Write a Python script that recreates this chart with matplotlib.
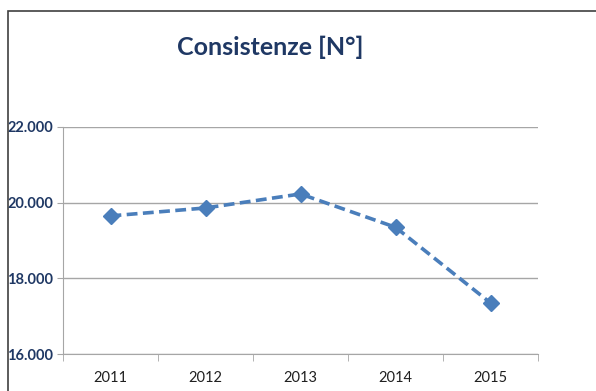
import matplotlib.pyplot as plt
from matplotlib.patches import Rectangle
from matplotlib.ticker import FuncFormatter

anni = ["2011", "2012", "2013", "2014", "2015"]
consistenze = [19650, 19860, 20230, 19350, 17350]
y_ticks = [16000, 18000, 20000, 22000]

navy = "#1F3864"
blu = "#4A7EBB"
grigio = "#A6A6A6"

plt.rcParams["font.family"] = ["Lato", "DejaVu Sans"]

fig = plt.figure(figsize=(5.96, 3.91), dpi=100)
fig.patches.append(Rectangle((8 / 596, -0.1), 1.2, 1 - 11 / 391 + 0.1,
                             transform=fig.transFigure, fill=False,
                             edgecolor="#404040", linewidth=1.2))

ax = fig.add_axes([63 / 596, 1 - 354 / 391, 475 / 596, 227 / 391])
x = list(range(len(anni)))
ax.plot(x, consistenze, linestyle=(0, (3, 1.5)), color=blu, linewidth=2.6,
        marker="D", markersize=8, markerfacecolor=blu, markeredgecolor=blu)

ax.set_xlim(-0.5, len(anni) - 0.5)
ax.set_ylim(16000, 22000)
ax.set_yticks(y_ticks)
ax.yaxis.set_major_formatter(FuncFormatter(lambda v, p: f"{int(v):,}".replace(",", ".")))
ax.set_xticks(x)
ax.set_xticklabels(anni)
ax.set_xticks([i - 0.5 for i in range(len(anni) + 1)], minor=True)
ax.tick_params(axis="x", which="major", length=0, pad=12, labelsize=10.5, labelcolor="#202020")
ax.tick_params(axis="x", which="minor", length=5, color=grigio, direction="out")
ax.tick_params(axis="y", length=4, pad=3, color=grigio, labelsize=10.5, labelcolor=navy)
for lab in ax.get_yticklabels():
    lab.set_fontweight("bold")

ax.grid(axis="y", color=grigio, linewidth=1)
ax.set_axisbelow(True)
for s in ["top", "right"]:
    ax.spines[s].set_visible(False)
for s in ["left", "bottom"]:
    ax.spines[s].set_color(grigio)

fig.text(270 / 596, 1 - 47 / 391, "Consistenze [N°]", ha="center", va="center",
         fontsize=18, fontweight="bold", color=navy)

fig.savefig("out.png", dpi=100)
